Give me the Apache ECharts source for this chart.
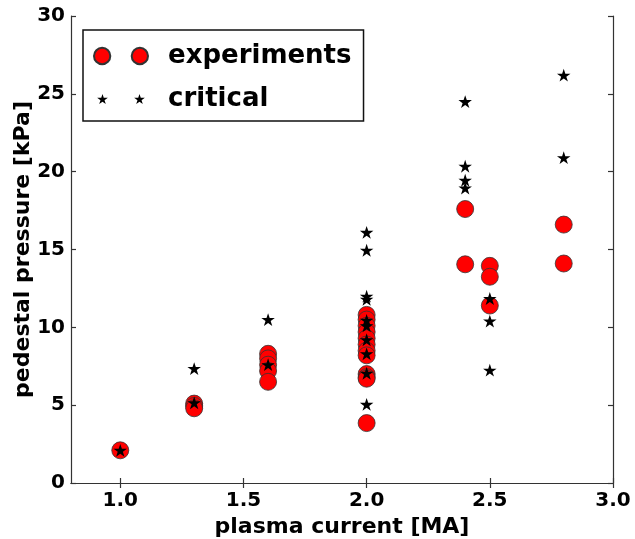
<!DOCTYPE html>
<html>
<head>
<meta charset="utf-8">
<script src="https://cdn.jsdelivr.net/npm/echarts@6/dist/echarts.min.js"></script>
<style>
html,body{margin:0;padding:0;background:#fff;}
#chart{width:635px;height:539px;}
</style>
</head>
<body>
<div id="chart"></div>
<script>
// ---- data ----
var expCurrent = [1.0, 1.3, 1.3, 1.3, 1.6, 1.6, 1.6, 1.6, 1.6,
  2.0, 2.0, 2.0, 2.0, 2.0, 2.0, 2.0, 2.0, 2.0, 2.0, 2.0, 2.0,
  2.4, 2.4, 2.5, 2.5, 2.5, 2.8, 2.8];
var expPressure = [2.1, 5.1, 4.95, 4.8, 8.3, 8.0, 7.6, 7.2, 6.5,
  10.8, 10.5, 10.1, 9.7, 9.3, 8.9, 8.5, 8.2, 7.0, 6.8, 6.7, 3.85,
  17.6, 14.05, 13.95, 13.25, 11.4, 16.6, 14.1];
var critCurrent = [1.0, 1.3, 1.3, 1.6, 1.6,
  2.0, 2.0, 2.0, 2.0, 2.0, 2.0, 2.0, 2.0, 2.0, 2.0,
  2.4, 2.4, 2.4, 2.4, 2.5, 2.5, 2.5, 2.8, 2.8];
var critPressure = [2.1, 7.35, 5.15, 10.5, 7.6,
  16.1, 14.95, 12.0, 11.8, 10.45, 10.1, 9.2, 8.3, 7.05, 5.05,
  24.5, 20.35, 19.45, 18.95, 11.85, 10.4, 7.25, 26.2, 20.9];
var xTicks = [1.0, 1.5, 2.0, 2.5, 3.0];
var yTicks = [0, 5, 10, 15, 20, 25, 30];
var seriesNames = ['experiments', 'critical'];
var xTitle = 'plasma current [MA]';
var yTitle = 'pedestal pressure [kPa]';

// ---- shapes ----
function starPts(cx, cy, R) {
  var r = R * 0.382, s = '';
  for (var i = 0; i < 10; i++) {
    var a = -Math.PI / 2 + i * Math.PI / 5;
    var rr = i % 2 === 0 ? R : r;
    s += (i === 0 ? 'M' : 'L') + (cx + rr * Math.cos(a)).toFixed(2) + ',' + (cy + rr * Math.sin(a)).toFixed(2) + ' ';
  }
  return s + 'Z ';
}
function circ(cx, cy, r) {
  return 'M' + (cx - r) + ',' + cy + ' A' + r + ',' + r + ' 0 1,0 ' + (cx + r) + ',' + cy +
    ' A' + r + ',' + r + ' 0 1,0 ' + (cx - r) + ',' + cy + ' Z ';
}
var starSymbol = 'path://' + starPts(50, 50, 50);
var legendCircles = 'path://' + circ(8.5, 8.5, 8) + circ(45.5, 8.5, 8);
var legendStars = 'path://M0,0 L0,0 M54,17 L54,17 ' + starPts(8.5, 9, 5.6) + starPts(45.5, 9, 5.6);

var font = 'DejaVu Sans';
var axisLineStyle = { color: '#333', width: 1.2 };

function toPairs(xs, ys) { return xs.map(function (x, i) { return [x, ys[i]]; }); }

var chart = echarts.init(document.getElementById('chart'), null, { renderer: 'canvas' });
chart.setOption({
  animation: false,
  backgroundColor: '#fff',
  grid: { left: 71, right: 22, top: 16, bottom: 56, containLabel: false, outerBoundsMode: 'none' },
  legend: {
    orient: 'vertical',
    left: 83, top: 30,
    padding: [11, 12, 7, 10],
    itemWidth: 54, itemHeight: 17,
    itemGap: 13,
    borderColor: '#111', borderWidth: 1.5,
    backgroundColor: '#fff',
    textStyle: { fontFamily: font, fontWeight: 'bold', fontSize: 26, color: '#000', lineHeight: 30, padding: [0, 0, 0, 15] },
    data: [
      { name: seriesNames[0], icon: legendCircles },
      { name: seriesNames[1], icon: legendStars }
    ]
  },
  xAxis: [{
    type: 'value', min: 0.8, max: 3.0,
    name: xTitle, nameLocation: 'middle', nameGap: 33, nameMoveOverlap: false,
    nameTextStyle: { fontFamily: font, fontWeight: 'bold', fontSize: 22, color: '#000' },
    axisLine: { show: true, lineStyle: axisLineStyle },
    axisTick: { show: true, inside: true, length: 5, lineStyle: axisLineStyle, customValues: xTicks },
    axisLabel: { customValues: xTicks, margin: 8, fontFamily: font, fontWeight: 'bold', fontSize: 20, color: '#000',
      formatter: function (v) { return v.toFixed(1); } },
    splitLine: { show: false }
  }, {
    type: 'value', min: 0.8, max: 3.0, position: 'top',
    axisLine: { show: true, lineStyle: axisLineStyle },
    axisTick: { show: true, inside: true, length: 5, lineStyle: axisLineStyle, customValues: xTicks },
    axisLabel: { show: false },
    splitLine: { show: false }
  }],
  yAxis: [{
    type: 'value', min: 0, max: 30, interval: 5,
    name: yTitle, nameLocation: 'middle', nameGap: 37, nameMoveOverlap: false,
    nameTextStyle: { fontFamily: font, fontWeight: 'bold', fontSize: 22, color: '#000' },
    axisLine: { show: true, lineStyle: axisLineStyle },
    axisTick: { show: true, inside: true, length: 5, lineStyle: axisLineStyle },
    axisLabel: { margin: 6, fontFamily: font, fontWeight: 'bold', fontSize: 20, color: '#000' },
    splitLine: { show: false }
  }, {
    type: 'value', min: 0, max: 30, interval: 5, position: 'right',
    axisLine: { show: true, lineStyle: axisLineStyle },
    axisTick: { show: true, inside: true, length: 5, lineStyle: axisLineStyle },
    axisLabel: { show: false },
    splitLine: { show: false }
  }],
  series: [{
    name: seriesNames[0], type: 'scatter',
    symbol: 'circle', symbolSize: 17,
    itemStyle: { color: '#ff0000', borderColor: '#333', borderWidth: 0.8, opacity: 1 },
    data: toPairs(expCurrent, expPressure),
    z: 2
  }, {
    name: seriesNames[1], type: 'scatter',
    symbol: starSymbol, symbolSize: 13.5, symbolKeepAspect: true,
    itemStyle: { color: '#000', opacity: 1 },
    data: toPairs(critCurrent, critPressure),
    z: 3
  }]
});
</script>
</body>
</html>
